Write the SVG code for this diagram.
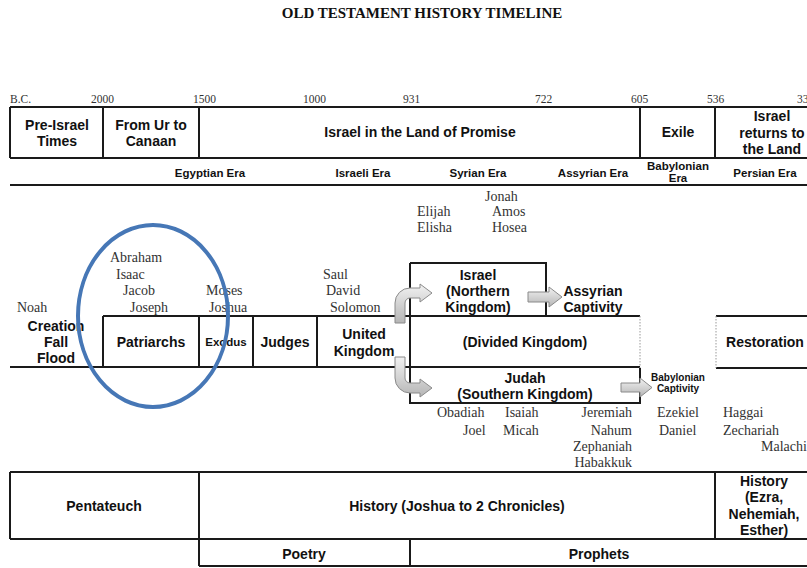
<svg xmlns="http://www.w3.org/2000/svg" width="807" height="568" viewBox="0 0 807 568">
<style>
.ln{stroke:#1a1a1a;stroke-width:2;fill:none}
.dot{stroke:#999;stroke-width:1;stroke-dasharray:1.5 1.5;fill:none}
.b{font-family:"Liberation Sans",Arial,sans-serif;font-weight:bold;font-size:14px;fill:#111;text-anchor:middle}
.sm{font-size:10px}
.xs{font-size:9.5px}
.md{font-size:11.5px}
.era{font-family:"Liberation Sans",Arial,sans-serif;font-weight:bold;font-size:11.5px;fill:#111;text-anchor:middle}
.s{font-family:"Liberation Serif","Times New Roman",serif;font-size:14px;fill:#333}
.yr{font-family:"Liberation Serif","Times New Roman",serif;font-size:11.5px;fill:#333}
.arr{fill:url(#g);stroke:#8a8a8a;stroke-width:1}
</style>
<defs>
<linearGradient id="g" x1="0" y1="0" x2="0" y2="1">
<stop offset="0" stop-color="#f2f2f2"/>
<stop offset="1" stop-color="#b5b5b5"/>
</linearGradient>
</defs>
<rect width="807" height="568" fill="#fff"/>
<text x="422" y="18" text-anchor="middle" font-family="Liberation Serif,serif" font-weight="bold" font-size="15" fill="#111">OLD TESTAMENT HISTORY TIMELINE</text>

<g id="years">
<text class="yr" x="10" y="103">B.C.</text>
<text class="yr" x="91" y="103">2000</text>
<text class="yr" x="193" y="103">1500</text>
<text class="yr" x="303" y="103">1000</text>
<text class="yr" x="403" y="103">931</text>
<text class="yr" x="535" y="103">722</text>
<text class="yr" x="631" y="103">605</text>
<text class="yr" x="707" y="103">536</text>
<text class="yr" x="797" y="103">33</text>
</g>

<g id="top-row">
<path class="ln" d="M10 107H807M10 158H807M10 185H807M10 107V158M103 107V158M199 107V158M640 107V158M715 107V158"/>
<text class="b" x="57" y="130">Pre-Israel</text><text class="b" x="57" y="146">Times</text>
<text class="b" x="151" y="130">From Ur to</text><text class="b" x="151" y="146">Canaan</text>
<text class="b" x="420" y="137">Israel in the Land of Promise</text>
<text class="b" x="678" y="137">Exile</text>
<text class="b" x="772" y="121">Israel</text><text class="b" x="772" y="138">returns to</text><text class="b" x="772" y="154">the Land</text>
</g>

<g id="eras">
<text class="era" x="210" y="177">Egyptian Era</text>
<text class="era" x="363" y="177">Israeli Era</text>
<text class="era" x="478" y="177">Syrian Era</text>
<text class="era" x="593" y="177">Assyrian Era</text>
<text class="era xs" x="678" y="170">Babylonian</text>
<text class="era xs" x="678" y="182">Era</text>
<text class="era" x="765" y="177">Persian Era</text>
</g>

<g id="people">
<text class="s" x="110" y="262">Abraham</text>
<text class="s" x="116" y="279">Isaac</text>
<text class="s" x="123" y="295">Jacob</text>
<text class="s" x="130" y="312">Joseph</text>
<text class="s" x="17" y="312">Noah</text>
<text class="s" x="206" y="295">Moses</text>
<text class="s" x="209" y="312">Joshua</text>
<text class="s" x="323" y="279">Saul</text>
<text class="s" x="326" y="295">David</text>
<text class="s" x="330" y="312">Solomon</text>
<text class="s" x="485" y="201">Jonah</text>
<text class="s" x="417" y="216">Elijah</text>
<text class="s" x="492" y="216">Amos</text>
<text class="s" x="417" y="232">Elisha</text>
<text class="s" x="492" y="232">Hosea</text>
<text class="s" x="437" y="417">Obadiah</text>
<text class="s" x="505" y="417">Isaiah</text>
<text class="s" x="463" y="435">Joel</text>
<text class="s" x="503" y="435">Micah</text>
<text class="s" x="632" y="417" text-anchor="end">Jeremiah</text>
<text class="s" x="632" y="435" text-anchor="end">Nahum</text>
<text class="s" x="632" y="451" text-anchor="end">Zephaniah</text>
<text class="s" x="632" y="467" text-anchor="end">Habakkuk</text>
<text class="s" x="657" y="417">Ezekiel</text>
<text class="s" x="659" y="435">Daniel</text>
<text class="s" x="723" y="417">Haggai</text>
<text class="s" x="723" y="435">Zechariah</text>
<text class="s" x="761" y="451">Malachi</text>
</g>

<g id="timeline">
<path class="ln" d="M10 367H640M103 316H640M716 316H807M716 368H807M103 316V367M199 316V367M253 316V367M317 316V367M410 263V403H640V368M410 263H546V316"/>
<path class="dot" d="M640 316V368M716 316V368"/>
<text class="b" x="56" y="331">Creation</text><text class="b" x="56" y="347">Fall</text><text class="b" x="56" y="363">Flood</text>
<text class="b" x="151" y="347">Patriarchs</text>
<text class="b md" x="226" y="346">Exodus</text>
<text class="b" x="285" y="347">Judges</text>
<text class="b" x="364" y="339">United</text><text class="b" x="364" y="356">Kingdom</text>
<text class="b" x="478" y="280">Israel</text><text class="b" x="478" y="296">(Northern</text><text class="b" x="478" y="312">Kingdom)</text>
<text class="b" x="593" y="296">Assyrian</text><text class="b" x="593" y="312">Captivity</text>
<text class="b" x="525" y="347">(Divided Kingdom)</text>
<text class="b" x="525" y="383">Judah</text><text class="b" x="525" y="399">(Southern Kingdom)</text>
<text class="b sm" x="678" y="381">Babylonian</text><text class="b sm" x="678" y="392">Captivity</text>
<text class="b" x="765" y="347">Restoration</text>
</g>

<g id="connectors">
<path class="arr" d="M395 323V303A15 15 0 0 1 410 288H420V284L432 293L420 302V298H410A5 5 0 0 0 405 303V323Z"/>
<path class="arr" d="M395 357V378A15 15 0 0 0 410 393H420V397L432 388L420 379V383H410A5 5 0 0 1 405 378V357Z"/>
<path class="arr" d="M528 292H549V287L562 297L549 307V302H528Z"/>
<path class="arr" d="M621 383H640V378L652 387.5L640 397V392H621Z"/>
</g>

<g id="books">
<path class="ln" d="M10 472H807M10 539H807M10 472V539M199 472V566M715 472V539M199 566H807M410 539V566"/>
<text class="b" x="104" y="511">Pentateuch</text>
<text class="b" x="457" y="511">History (Joshua to 2 Chronicles)</text>
<text class="b" x="764" y="486">History</text><text class="b" x="764" y="502">(Ezra,</text><text class="b" x="764" y="519">Nehemiah,</text><text class="b" x="764" y="535">Esther)</text>
<text class="b" x="304" y="559">Poetry</text>
<text class="b" x="599" y="559">Prophets</text>
</g>

<g id="highlight">
<ellipse cx="153" cy="316" rx="75" ry="91" fill="none" stroke="#4677b6" stroke-width="4"/>
</g>
</svg>
